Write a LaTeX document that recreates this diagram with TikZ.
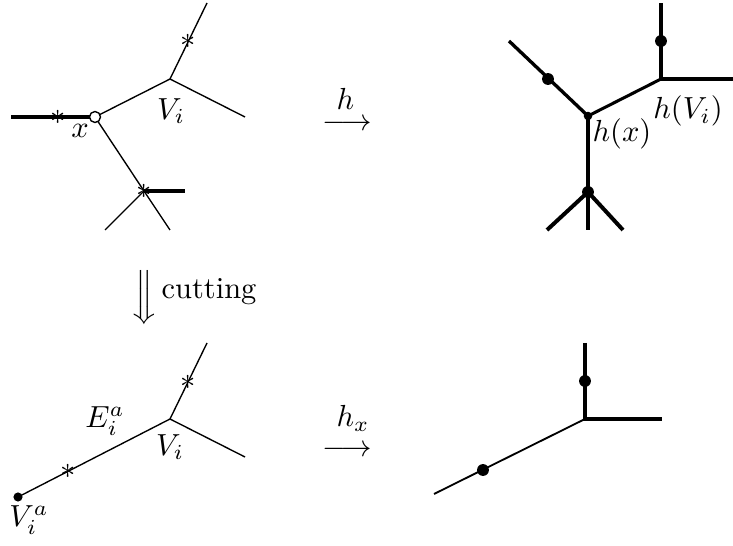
\documentclass[tikz,border=0pt]{standalone}
\begin{document}
\begin{tikzpicture}[x=0.328pt,y=-0.328pt,
  thinln/.style={line width=0.45pt},
  medln/.style={line width=1pt},
  thickln/.style={line width=1.3pt},
  starmark/.style={inner sep=0pt,outer sep=0pt},
  bigdot/.style={circle,fill=black,inner sep=0pt,minimum size=3.9pt},
  smalldot/.style={circle,fill=black,inner sep=0pt,minimum size=2.8pt},
  opendot/.style={circle,draw=black,fill=white,line width=0.45pt,inner sep=0pt,minimum size=3.6pt},
  lbl/.style={inner sep=0pt}]
\useasboundingbox (0,0) rectangle (733,546);

% ---------- top left ----------
\coordinate (A1) at (11,117);
\coordinate (X) at (95,117);
\coordinate (VJ) at (170,79);
\coordinate (T1) at (207,3);
\coordinate (R1) at (245,117);
\coordinate (S3) at (144,191);
\coordinate (B1) at (170,230);
\coordinate (B2) at (105,230);
\coordinate (R2) at (185,191);
\draw[medln] (A1) -- (X);
\draw[thinln] (X) -- (VJ) -- (T1);
\draw[thinln] (VJ) -- (R1);
\draw[thinln] (X) -- (S3) -- (B1);
\draw[thinln] (S3) -- (B2);
\draw[thickln] (S3) -- (R2);
\node[starmark] (st1) at (58,117) {$\ast$};
\node[starmark] (st2) at (188,41) {$\ast$};
\node[starmark] (st3) at (S3) {$\ast$};
\node[opendot] (xc) at (X) {};
\node[lbl] (xl) at (80,131) {$x$};
\node[lbl] (vil) at (171,111) {$V_i$};

% ---------- top arrow ----------
\node[lbl,anchor=base] (harr) at (347,130.6) {$\longrightarrow$};
\node[lbl,anchor=base] (hl) at (345.5,110) {$h$};

% ---------- top right ----------
\coordinate (HX) at (588,116);
\coordinate (UL) at (509,41);
\coordinate (HV) at (661,79);
\coordinate (HU) at (661,3);
\coordinate (HR) at (733,79);
\coordinate (HD) at (588,230);
\coordinate (HB) at (588,192);
\coordinate (HBL) at (547,230);
\coordinate (HBR) at (623,230);
\draw[line width=1.1pt] (HX) -- (UL);
\draw[medln] (HX) -- (HV);
\draw[thickln] (HV) -- (HU);
\draw[thickln] (HV) -- (HR);
\draw[thickln] (HX) -- (HD);
\draw[thickln] (HB) -- (HBL);
\draw[thickln] (HB) -- (HBR);
\node[bigdot] (d1) at (548,79) {};
\node[bigdot] (d2) at (661,41) {};
\node[bigdot] (d3) at (HB) {};
\node[smalldot] (d4) at (HX) {};
\node[lbl] (hxl) at (622,134) {$h(x)$};
\node[lbl] (hvl) at (688,111) {$h(V_i)$};

% ---------- cutting ----------
\node[lbl] (cut) at (144,297.5) {$\Big\Downarrow$};
\node[lbl,anchor=base west] (cutl) at (161,299) {cutting};

% ---------- bottom left ----------
\coordinate (VJ2) at (170,419);
\coordinate (T2) at (207,343);
\coordinate (R3) at (245,457);
\coordinate (VA) at (18,497);
\draw[thinln] (VA) -- (VJ2) -- (T2);
\draw[thinln] (VJ2) -- (R3);
\node[starmark] (st4) at (188,382) {$\ast$};
\node[starmark] (st5) at (68,471.5) {$\ast$};
\node[smalldot,minimum size=3pt] (va) at (VA) {};
\node[lbl] (eil) at (105,421) {$E_i^a$};
\node[lbl] (vi2l) at (170,447) {$V_i$};
\node[lbl] (val) at (29,520) {$V_i^a$};

% ---------- bottom arrow ----------
\node[lbl,anchor=base] (hxarr) at (347,456.6) {$\longrightarrow$};
\node[lbl,anchor=base west] (hxal) at (336,427) {$h_x$};

% ---------- bottom right ----------
\coordinate (J) at (585,419);
\coordinate (JU) at (585,343);
\coordinate (JR) at (662,419);
\coordinate (JL) at (434,494);
\draw[line width=0.6pt] (J) -- (JL);
\draw[thickln] (JU) -- (J) -- (JR);
\node[bigdot] (d5) at (585,381) {};
\node[bigdot] (d6) at (483,470) {};
\end{tikzpicture}
\end{document}
